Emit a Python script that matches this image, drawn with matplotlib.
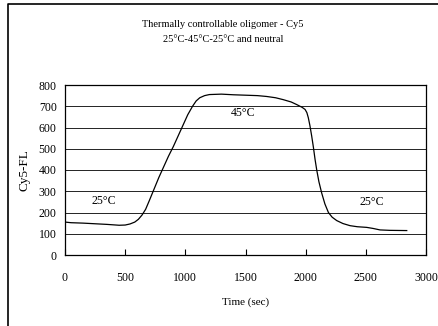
import matplotlib
matplotlib.use("Agg")
import matplotlib.pyplot as plt
from matplotlib.lines import Line2D

#
# Data
#

time_sec = [0, 50, 150, 250, 350, 450, 500, 540, 580, 610, 640, 670, 700, 740,
            780, 820, 860, 900, 940, 980, 1020, 1060, 1090, 1120, 1160, 1200,
            1300, 1400, 1500, 1600, 1676, 1750, 1814, 1880, 1925, 1970, 1995,
            2010, 2022, 2035, 2050, 2064, 2078, 2092, 2110, 2133, 2160, 2189,
            2220, 2258, 2310, 2369, 2430, 2507, 2560, 2618, 2700, 2840]
cy5_fl = [155, 152, 150, 147, 144, 140, 141, 146, 155, 168, 188, 215, 255, 310,
          365, 415, 465, 510, 560, 610, 660, 700, 725, 740, 750, 755,
          757, 754, 752, 750, 746, 740, 731, 720, 708, 695, 685,
          670, 646, 610, 560, 508, 450, 400, 345, 292, 240, 200,
          178, 162, 148, 138, 133, 130, 125, 118, 116, 115]

labels = ["25°C", "45°C", "25°C"]
label_x = [320, 1482, 2549]
label_y = [256, 667, 251]

title = "Thermally controllable oligomer - Cy5\n25°C-45°C-25°C and neutral"

#
# Graph
#

plt.rcParams["font.family"] = ["Liberation Serif", "DejaVu Serif"]

fig = plt.figure(figsize=(4.38, 3.26), dpi=100)
ax = fig.add_axes([65 / 438, 1 - 255 / 326, 361 / 438, 170 / 326])

ax.plot(time_sec, cy5_fl, color="black", linewidth=0.9)

for y in range(100, 800, 100):
    ax.axhline(y, color="black", linewidth=0.6, zorder=0)

for txt, x, y in zip(labels, label_x, label_y):
    ax.text(x, y, txt, ha="center", va="center", fontsize=8.5)

ax.set_xlim(0, 3000)
ax.set_ylim(0, 800)
ax.set_xticks(range(0, 3001, 500))
ax.set_yticks(range(0, 801, 100))
ax.tick_params(axis="x", direction="in", length=4, width=0.8, pad=12, labelsize=8.5)
ax.tick_params(axis="y", length=0, pad=6, labelsize=8.5)
for s in ax.spines.values():
    s.set_linewidth(0.9)

ax.set_xlabel("Time (sec)", fontsize=8, labelpad=10)
ax.set_ylabel("Cy5-FL", fontsize=9.5, labelpad=6)

fig.text(0.5 * (8 + 438) / 438, 1 - 32 / 326, title, ha="center", va="center",
         fontsize=7.5, linespacing=1.9)

# outer frame (top and left edges visible)
fig.add_artist(Line2D([8 / 438, 8 / 438, 1], [0, 1 - 3.5 / 326, 1 - 3.5 / 326],
                      transform=fig.transFigure, color="black", linewidth=1.2))

fig.savefig("out.png", dpi=100)
